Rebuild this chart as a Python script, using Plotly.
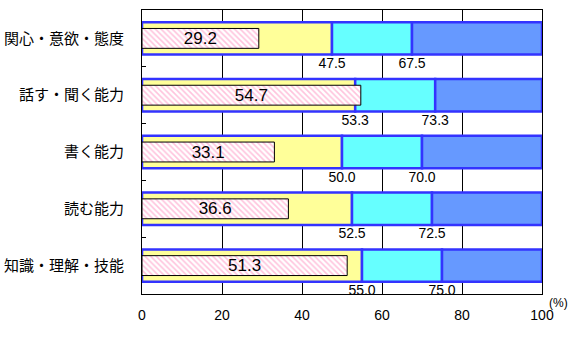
import plotly.graph_objects as go

categories = ["関心・意欲・態度", "話す・聞く能力", "書く能力", "読む能力", "知識・理解・技能"]
actual = [29.2, 54.7, 33.1, 36.6, 51.3]
yellow_end = [47.5, 53.3, 50.0, 52.5, 55.0]
cyan_end = [67.5, 73.3, 70.0, 72.5, 75.0]
total = [100, 100, 100, 100, 100]
x_ticks = [0, 20, 40, 60, 80, 100]

pos = list(range(len(categories)))
border = dict(color="#3333FF", width=2.5)
W_OUT = 0.57
W_IN = 0.35
LABEL_OFF = 0.46

fig = go.Figure()
fig.add_trace(go.Bar(orientation="h", y=pos, base=[0]*len(pos), x=yellow_end,
                     width=W_OUT, marker=dict(color="#FFFF99", line=border), hoverinfo="skip"))
fig.add_trace(go.Bar(orientation="h", y=pos, base=yellow_end,
                     x=[c - a for a, c in zip(yellow_end, cyan_end)],
                     width=W_OUT, marker=dict(color="#66FFFF", line=border), hoverinfo="skip"))
fig.add_trace(go.Bar(orientation="h", y=pos, base=cyan_end,
                     x=[t - c for c, t in zip(cyan_end, total)],
                     width=W_OUT, marker=dict(color="#6699FF", line=border), hoverinfo="skip"))
fig.add_trace(go.Bar(orientation="h", y=pos, base=[0]*len(pos), x=actual,
                     width=W_IN,
                     marker=dict(color="white", line=dict(color="black", width=1),
                                 pattern=dict(shape="\\", fgcolor="#FF88BB", bgcolor="white",
                                              size=4, solidity=0.4)),
                     text=[f"{v:.1f}" for v in actual], textposition="inside",
                     insidetextanchor="middle", constraintext="none",
                     textfont=dict(family="Liberation Sans, Arial", size=17, color="black"),
                     hoverinfo="skip"))
fig.add_trace(go.Scatter(x=yellow_end + cyan_end,
                         y=[p + LABEL_OFF for p in pos] * 2,
                         mode="text", text=[f"{v:.1f}" for v in yellow_end + cyan_end],
                         textfont=dict(family="Liberation Sans, Arial", size=14, color="black"),
                         cliponaxis=False, hoverinfo="skip"))

fig.update_layout(
    width=578, height=338, barmode="overlay", showlegend=False,
    margin=dict(l=142, r=36, t=10, b=44),
    paper_bgcolor="white", plot_bgcolor="white",
    font=dict(family="Noto Sans CJK JP", color="black"),
    xaxis=dict(range=[0, 100], tickvals=x_ticks, showgrid=True, gridcolor="black",
               gridwidth=1, showline=True, linecolor="black", linewidth=1, mirror=True,
               ticks="", zeroline=False, ticklabelstandoff=8, automargin=False,
               tickfont=dict(family="Liberation Sans, Arial", size=14)),
    yaxis=dict(range=[4.5, -0.5], tickvals=pos, ticktext=categories, showgrid=False,
               showline=True, linecolor="black", linewidth=1, mirror=True, ticks="",
               zeroline=False, ticklabelstandoff=14, automargin=False,
               tickfont=dict(family="Noto Sans CJK JP", size=15),
               minor=dict(tickvals=[p + 0.5 for p in pos[:-1]], ticks="inside",
                          ticklen=4, tickcolor="black", showgrid=False)),
    annotations=[dict(text="(%)", xref="x", x=100, yref="paper", y=0, xanchor="left",
                      yanchor="top", xshift=5, yshift=0, showarrow=False,
                      font=dict(family="Liberation Sans, Arial", size=12))],
)

fig.write_html("out.html")
